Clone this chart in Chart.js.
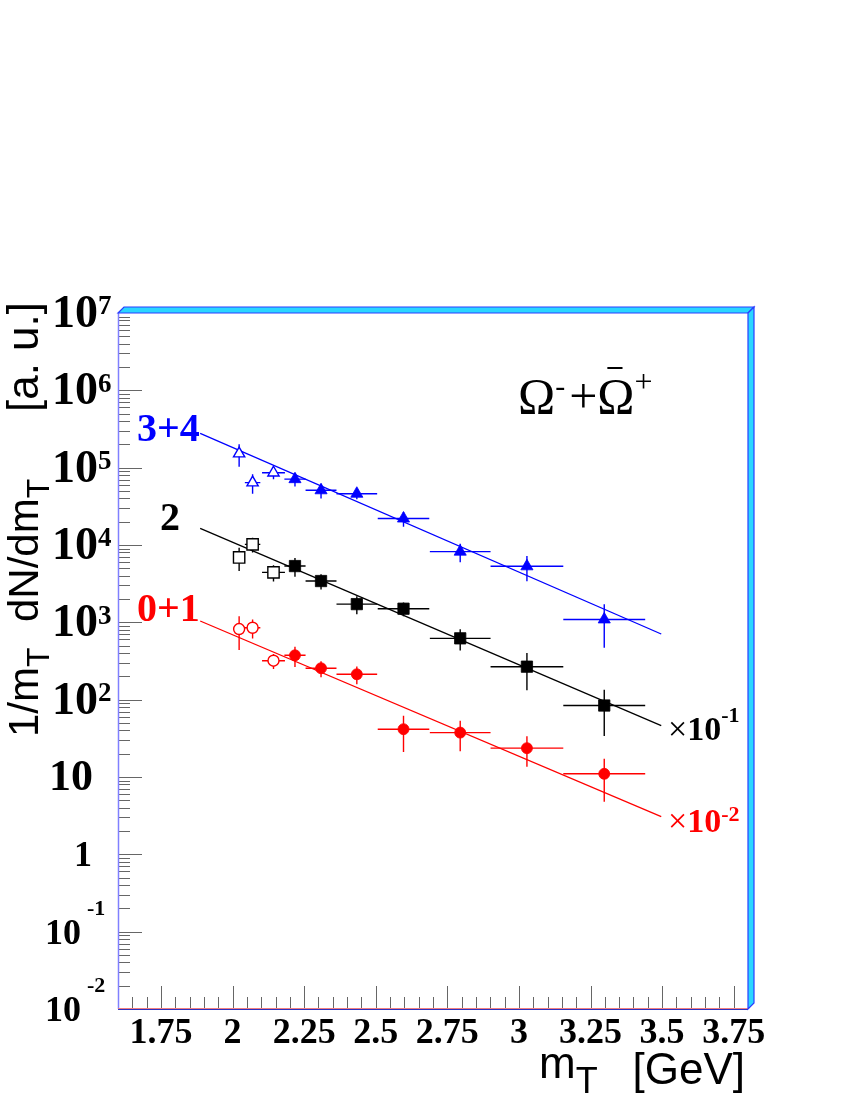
<!DOCTYPE html>
<html><head><meta charset="utf-8">
<script src="https://cdn.jsdelivr.net/npm/chart.js@4/dist/chart.umd.min.js"></script>
<style>html,body{margin:0;padding:0;background:#fff;}#wrap{width:850px;height:1100px;}</style>
</head><body><div id="wrap"><canvas id="c" width="850" height="1100"></canvas></div>
<script>
// ---- data ----
const xOpen   = [2.023, 2.07, 2.143];
const exOpen  = [0.0, 0.027, 0.04];
const xFilled = [2.218, 2.309, 2.434, 2.597, 2.795, 3.028, 3.298];
const exFilled= [0.037, 0.054, 0.071, 0.09, 0.106, 0.127, 0.143];

const blueOpen    = [1.52e5, 6.4e4, 8.6e4];
const blueOpenErr = [4.9e4, 1.8e4, 1.5e4];
const blueFilled    = [7.1e4, 5.1e4, 4.6e4, 2.2e4, 8.2e3, 5.3e3, 1.09e3];
const blueFilledErr = [1.4e4, 1.1e4, 7e3, 4.8e3, 2.2e3, 1.9e3, 620];

const blackOpen    = [6.9e3, 1.02e4, 4.43e3];
const blackOpenErr = [2.3e3, 2.2e3, 1.06e3];
const blackFilled    = [5.34e3, 3.42e3, 1.72e3, 1.5e3, 621, 267, 84];
const blackFilledErr = [1.45e3, 770, 450, 300, 190, 135, 50];

const redOpen    = [819, 851, 319];
const redOpenErr = [380, 235, 70];
const redFilled    = [375, 255, 213, 41.5, 37.5, 23.6, 11.0];
const redFilledErr = [110, 60, 55, 20.5, 16, 10, 6.2];

const fitX     = [1.887, 3.497];
const fitBlue  = [2.77e5, 706];
const fitBlack = [1.64e4, 46.1];
const fitRed   = [1040, 3.08];

const xTickLabels = ['1.75','2','2.25','2.5','2.75','3','3.25','3.5','3.75'];
const xTickValues = [1.75,2,2.25,2.5,2.75,3,3.25,3.5,3.75];
const yDecades = [-2,-1,0,1,2,3,4,5,6,7];

const BLUE='#0000ff', RED='#ff0000', BLACK='#000000';

function pts(xs, ys){ return xs.map((x,i)=>({x:x, y:ys[i]})); }

function pointSet(label, xs, ys, ex, ey, color, style, r, open, ord){
  return {label, data:pts(xs,ys), ex, ey, errColor:color,
    showLine:false, pointStyle:style, pointRadius:r, pointHoverRadius:r,
    pointBorderWidth: open?1.4:0.8, pointBorderColor:color,
    pointBackgroundColor: open?'#ffffff':color, order:ord};
}
function lineSet(label, ys, color){
  return {label, data:pts(fitX, ys), showLine:true, borderColor:color, borderWidth:1.3,
    pointRadius:0, fill:false, order:10};
}

const errorBars = {
  id:'errorBars',
  beforeDatasetsDraw(chart){
    const ctx=chart.ctx, xs=chart.scales.x, ys=chart.scales.y;
    chart.data.datasets.forEach(ds=>{
      if(!ds.ex) return;
      ctx.save(); ctx.strokeStyle=ds.errColor; ctx.lineWidth=1.4;
      ds.data.forEach((p,i)=>{
        const px=xs.getPixelForValue(p.x), py=ys.getPixelForValue(p.y);
        const ex=ds.ex[i], ey=ds.ey[i];
        ctx.beginPath();
        if(ex>0){ctx.moveTo(xs.getPixelForValue(p.x-ex),py);ctx.lineTo(xs.getPixelForValue(p.x+ex),py);}
        const lo=Math.max(p.y-ey, ys.min);
        ctx.moveTo(px, ys.getPixelForValue(p.y+ey)); ctx.lineTo(px, ys.getPixelForValue(lo));
        ctx.stroke();
      });
      ctx.restore();
    });
  }
};

function txt(ctx, s, x, y, font, color, align, base){
  ctx.font=font; ctx.fillStyle=color; ctx.textAlign=align||'left'; ctx.textBaseline=base||'alphabetic';
  ctx.fillText(s,x,y);
  return ctx.measureText(s).width;
}

const decor = {
  id:'decor',
  beforeDraw(chart){
    const ctx=chart.ctx; ctx.save(); ctx.fillStyle='#fff'; ctx.fillRect(0,0,chart.width,chart.height); ctx.restore();
  },
  afterDraw(chart){
    const ctx=chart.ctx, xs=chart.scales.x, ys=chart.scales.y, a=chart.chartArea;
    ctx.save();
    // ticks on y axis
    ctx.strokeStyle='#666'; ctx.lineWidth=1;
    for(let n=-2;n<7;n++){
      for(let k=1;k<=9;k++){
        const v=k*Math.pow(10,n); const py=Math.round(ys.getPixelForValue(v))+0.5;
        const len = k===1?24:12;
        ctx.beginPath(); ctx.moveTo(a.left,py); ctx.lineTo(a.left+len,py); ctx.stroke();
      }
    }
    // ticks on x axis
    for(let i=32;i<=76;i++){
      const v=i*0.05; const px=Math.round(xs.getPixelForValue(v))+0.5;
      const len = (i%5===0)?23:12;
      ctx.beginPath(); ctx.moveTo(px,a.bottom); ctx.lineTo(px,a.bottom-len); ctx.stroke();
    }
    // axis lines
    ctx.lineWidth=1.5; ctx.strokeStyle='#8080ff';
    ctx.beginPath(); ctx.moveTo(a.left+0.5,a.top); ctx.lineTo(a.left+0.5,a.bottom); ctx.stroke();
    ctx.lineWidth=1; ctx.strokeStyle='#f08080';
    ctx.beginPath(); ctx.moveTo(a.left,a.bottom-0.5); ctx.lineTo(a.right,a.bottom-0.5); ctx.stroke();
    ctx.strokeStyle='#3030c0';
    ctx.beginPath(); ctx.moveTo(a.left,a.bottom+0.5); ctx.lineTo(a.right,a.bottom+0.5); ctx.stroke();
    // 3D frame bars
    const d=6;
    ctx.fillStyle='#2ad6ff'; ctx.strokeStyle='#2a3cff'; ctx.lineWidth=1.2;
    ctx.beginPath(); ctx.moveTo(a.left,a.top); ctx.lineTo(a.left+d,a.top-d); ctx.lineTo(a.right+d,a.top-d); ctx.lineTo(a.right,a.top); ctx.closePath(); ctx.fill(); ctx.stroke();
    ctx.beginPath(); ctx.moveTo(a.right,a.top); ctx.lineTo(a.right+d,a.top-d); ctx.lineTo(a.right+d,a.bottom-d); ctx.lineTo(a.right,a.bottom); ctx.closePath(); ctx.fill(); ctx.stroke();

    const serifB = (s)=>'bold '+s+'px "Liberation Serif", "DejaVu Serif", serif';
    const serif = (s)=>s+'px "Liberation Serif", "DejaVu Serif", serif';
    const sans = (s)=>s+'px "Liberation Sans", Arial, sans-serif';
    // x tick labels
    xTickValues.forEach((v,i)=>{
      txt(ctx, xTickLabels[i], xs.getPixelForValue(v), 1043, serifB(36), '#000', 'center');
    });
    // y tick labels
    yDecades.forEach(n=>{
      const py=ys.getPixelForValue(Math.pow(10,n));
      if(n>=2){
        txt(ctx,'10',98,py+14,serifB(46),'#000','right');
        txt(ctx,String(n),98,py-19,serifB(27),'#000','left','top');
      } else if(n===1){
        txt(ctx,'10',93,py+13,serifB(44),'#000','right');
      } else if(n===0){
        txt(ctx,'1',92,py+12,serifB(36),'#000','right');
      } else {
        txt(ctx,'10',81,py+12,serifB(36),'#000','right');
        txt(ctx,String(n),87,py-17,serifB(22),'#000','left');
      }
    });
    // x title
    let x=539;
    x+=txt(ctx,'m',x,1078,sans(44),'#000');
    txt(ctx,'T',x,1093,sans(36),'#000');
    txt(ctx,'[GeV]',745,1084,sans(44),'#000','right');
    // y title (rotated)
    ctx.save(); ctx.translate(38,0); ctx.rotate(-Math.PI/2);
    let u=-737;
    u+=txt(ctx,'1/m',u,0,sans(42),'#000');
    txt(ctx,'T',u,11,sans(32),'#000');
    u=-622;
    u+=txt(ctx,'dN/dm',u,0,sans(42),'#000');
    txt(ctx,'T',u,11,sans(32),'#000');
    txt(ctx,'[a. u.]',-302,0,sans(44),'#000','right');
    ctx.restore();

    // group labels
    txt(ctx,'3+4',137,441,serifB(40),BLUE);
    txt(ctx,'2',160,530,serifB(40),BLACK);
    txt(ctx,'0+1',137,621,serifB(40),RED);
    // scale factors
    let sx=668;
    sx+=txt(ctx,'\u00d7',sx,740,serif(34),BLACK);
    sx+=txt(ctx,'10',sx,740,serifB(34),BLACK);
    txt(ctx,'-1',sx,722,serifB(22),BLACK);
    sx=668;
    sx+=txt(ctx,'\u00d7',sx,832,serif(34),RED);
    sx+=txt(ctx,'10',sx,832,serifB(34),RED);
    txt(ctx,'-2',sx,821,serifB(22),RED);
    // particle label
    let ox=518;
    ox+=txt(ctx,'\u03a9',ox,413,serif(50),BLACK);
    txt(ctx,'-',ox,396,serif(30),BLACK);
    ox+=14;
    ox+=txt(ctx,'+',ox,413,serif(50),BLACK);
    const ow=txt(ctx,'\u03a9',ox,413,serif(50),BLACK);
    ctx.strokeStyle='#000'; ctx.lineWidth=2;
    ctx.beginPath(); ctx.moveTo(ox+10,368); ctx.lineTo(ox+ow-12,368); ctx.stroke();
    txt(ctx,'+',ox+ow,392,serif(32),BLACK);
    ctx.restore();
  }
};

new Chart(document.getElementById('c'), {
  type:'scatter',
  data:{datasets:[
    pointSet('3+4 open', xOpen, blueOpen, exOpen, blueOpenErr, BLUE, 'triangle', 6.5, true, 1),
    pointSet('3+4', xFilled, blueFilled, exFilled, blueFilledErr, BLUE, 'triangle', 7, false, 1),
    pointSet('2 open', xOpen, blackOpen, exOpen, blackOpenErr, BLACK, 'rect', 8, true, 1),
    pointSet('2', xFilled, blackFilled, exFilled, blackFilledErr, BLACK, 'rect', 8, false, 1),
    pointSet('0+1 open', xOpen, redOpen, exOpen, redOpenErr, RED, 'circle', 5.5, true, 1),
    pointSet('0+1', xFilled, redFilled, exFilled, redFilledErr, RED, 'circle', 5.5, false, 1),
    lineSet('fit 3+4', fitBlue, BLUE),
    lineSet('fit 2', fitBlack, BLACK),
    lineSet('fit 0+1', fitRed, RED)
  ]},
  options:{
    responsive:false, animation:false, devicePixelRatio:1,
    layout:{padding:{left:118,right:102,top:313,bottom:91}},
    plugins:{legend:{display:false}, tooltip:{enabled:false}},
    scales:{
      x:{type:'linear', min:1.6, max:3.8, display:false},
      y:{type:'logarithmic', min:0.01, max:1e7, display:false}
    }
  },
  plugins:[errorBars, decor]
});
</script>
</body></html>
